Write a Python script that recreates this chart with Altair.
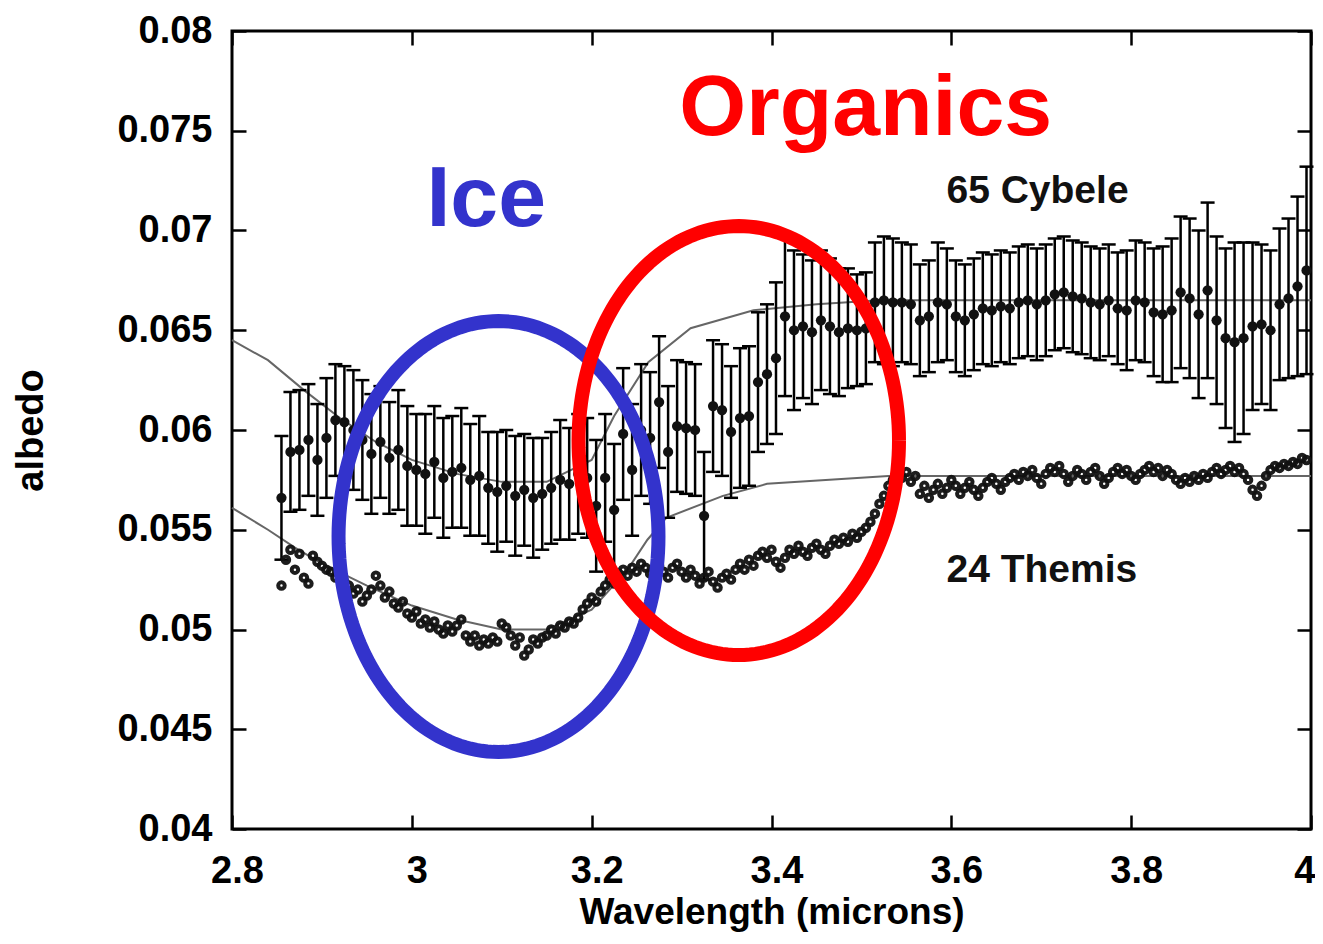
import altair as alt
import pandas as pd
import numpy as np

# ---------------- data ----------------
cyb_wl = [2.855, 2.865, 2.875, 2.885, 2.895, 2.905, 2.915, 2.925, 2.935, 2.945,
          2.955, 2.965, 2.975, 2.985, 2.995, 3.005, 3.015, 3.025, 3.035, 3.045,
          3.055, 3.065, 3.075, 3.085, 3.095, 3.105, 3.115, 3.125, 3.135, 3.145,
          3.155, 3.165, 3.175, 3.185, 3.195, 3.205, 3.215, 3.225, 3.235, 3.245,
          3.255, 3.265, 3.275, 3.285, 3.295, 3.305, 3.315, 3.325, 3.335, 3.345,
          3.355, 3.365, 3.375, 3.385, 3.395, 3.405, 3.415, 3.425, 3.435, 3.445,
          3.455, 3.465, 3.475, 3.485, 3.495, 3.505, 3.515, 3.525, 3.535, 3.545,
          3.555, 3.565, 3.575, 3.585, 3.595, 3.605, 3.615, 3.625, 3.635, 3.645,
          3.655, 3.665, 3.675, 3.685, 3.695, 3.705, 3.715, 3.725, 3.735, 3.745,
          3.755, 3.765, 3.775, 3.785, 3.795, 3.805, 3.815, 3.825, 3.835, 3.845,
          3.855, 3.865, 3.875, 3.885, 3.895, 3.905, 3.915, 3.925, 3.935, 3.945,
          3.955, 3.965, 3.975, 3.985, 3.995]
cyb_alb = [0.0566, 0.0589, 0.0590, 0.0595, 0.0585, 0.0596, 0.0605, 0.0604, 0.0600, 0.0595,
           0.0588, 0.0594, 0.0586, 0.0590, 0.0582, 0.0580, 0.0578, 0.0584, 0.0576, 0.0579,
           0.0581, 0.0575, 0.0577, 0.0571, 0.0569, 0.0572, 0.0567, 0.0570, 0.0566, 0.0568,
           0.0571, 0.0575, 0.0573, 0.0578, 0.0576, 0.0562, 0.0576, 0.0560, 0.0598, 0.0580,
           0.0600, 0.0596, 0.0614, 0.0589, 0.0602, 0.0601, 0.0600, 0.0557, 0.0612, 0.0610,
           0.0599, 0.0606, 0.0607, 0.0624, 0.0628, 0.0636, 0.0657, 0.0650, 0.0652, 0.0649,
           0.0655, 0.0652, 0.0649, 0.0651, 0.0650, 0.0651, 0.0664, 0.0665, 0.0664, 0.0664,
           0.0663, 0.0655, 0.0657, 0.0664, 0.0663, 0.0657, 0.0655, 0.0658, 0.0661, 0.0660,
           0.0662, 0.0661, 0.0664, 0.0665, 0.0663, 0.0665, 0.0668, 0.0669, 0.0667, 0.0666,
           0.0664, 0.0663, 0.0665, 0.0661, 0.0660, 0.0665, 0.0664, 0.0659, 0.0658, 0.0660,
           0.0669, 0.0666, 0.0658, 0.0670, 0.0655, 0.0646, 0.0644, 0.0646, 0.0652, 0.0653,
           0.0650, 0.0663, 0.0666, 0.0672, 0.0680]
cyb_err = [0.0031, 0.0030, 0.0030, 0.0028, 0.0028, 0.0030, 0.0028, 0.0028, 0.0030, 0.0030,
           0.0030, 0.0028, 0.0028, 0.0030, 0.0030, 0.0028, 0.0030, 0.0028, 0.0030, 0.0028,
           0.0030, 0.0028, 0.0030, 0.0028, 0.0030, 0.0028, 0.0030, 0.0028, 0.0030, 0.0028,
           0.0028, 0.0030, 0.0028, 0.0030, 0.0030, 0.0033, 0.0032, 0.0033, 0.0033, 0.0033,
           0.0033, 0.0033, 0.0033, 0.0033, 0.0033, 0.0033, 0.0033, 0.0032, 0.0033, 0.0033,
           0.0033, 0.0035, 0.0035, 0.0035, 0.0035, 0.0038, 0.0040, 0.0040, 0.0036, 0.0036,
           0.0035, 0.0034, 0.0032, 0.0030, 0.0028, 0.0028, 0.0030, 0.0032, 0.0032, 0.0030,
           0.0030, 0.0028, 0.0028, 0.0030, 0.0028, 0.0028, 0.0028, 0.0028, 0.0028, 0.0028,
           0.0028, 0.0028, 0.0028, 0.0028, 0.0028, 0.0028, 0.0028, 0.0028, 0.0028, 0.0028,
           0.0028, 0.0028, 0.0028, 0.0028, 0.0030, 0.0030, 0.0030, 0.0032, 0.0034, 0.0036,
           0.0038, 0.0040, 0.0042, 0.0044, 0.0042, 0.0045, 0.0050, 0.0048, 0.0042, 0.0040,
           0.0040, 0.0038, 0.0040, 0.0045, 0.0052]

them_wl = [2.855, 2.860, 2.865, 2.870, 2.875, 2.880, 2.885, 2.890, 2.895, 2.900,
           2.905, 2.910, 2.915, 2.920, 2.925, 2.930, 2.935, 2.940, 2.945, 2.950,
           2.955, 2.960, 2.965, 2.970, 2.975, 2.980, 2.985, 2.990, 2.995, 3.000,
           3.005, 3.010, 3.015, 3.020, 3.025, 3.030, 3.035, 3.040, 3.045, 3.050,
           3.055, 3.060, 3.065, 3.070, 3.075, 3.080, 3.085, 3.090, 3.095, 3.100,
           3.105, 3.110, 3.115, 3.120, 3.125, 3.130, 3.135, 3.140, 3.145, 3.150,
           3.155, 3.160, 3.165, 3.170, 3.175, 3.180, 3.185, 3.190, 3.195, 3.200,
           3.205, 3.210, 3.215, 3.220, 3.225, 3.230, 3.235, 3.240, 3.245, 3.250,
           3.255, 3.260, 3.265, 3.270, 3.275, 3.280, 3.285, 3.290, 3.295, 3.300,
           3.305, 3.310, 3.315, 3.320, 3.325, 3.330, 3.335, 3.340, 3.345, 3.350,
           3.355, 3.360, 3.365, 3.370, 3.375, 3.380, 3.385, 3.390, 3.395, 3.400,
           3.405, 3.410, 3.415, 3.420, 3.425, 3.430, 3.435, 3.440, 3.445, 3.450,
           3.455, 3.460, 3.465, 3.470, 3.475, 3.480, 3.485, 3.490, 3.495, 3.500,
           3.505, 3.510, 3.515, 3.520, 3.525, 3.530, 3.535, 3.540, 3.545, 3.550,
           3.555, 3.560, 3.565, 3.570, 3.575, 3.580, 3.585, 3.590, 3.595, 3.600,
           3.605, 3.610, 3.615, 3.620, 3.625, 3.630, 3.635, 3.640, 3.645, 3.650,
           3.655, 3.660, 3.665, 3.670, 3.675, 3.680, 3.685, 3.690, 3.695, 3.700,
           3.705, 3.710, 3.715, 3.720, 3.725, 3.730, 3.735, 3.740, 3.745, 3.750,
           3.755, 3.760, 3.765, 3.770, 3.775, 3.780, 3.785, 3.790, 3.795, 3.800,
           3.805, 3.810, 3.815, 3.820, 3.825, 3.830, 3.835, 3.840, 3.845, 3.850,
           3.855, 3.860, 3.865, 3.870, 3.875, 3.880, 3.885, 3.890, 3.895, 3.900,
           3.905, 3.910, 3.915, 3.920, 3.925, 3.930, 3.935, 3.940, 3.945, 3.950,
           3.955, 3.960, 3.965, 3.970, 3.975, 3.980, 3.985, 3.990, 3.995]
them_alb = [0.0522, 0.0535, 0.0540, 0.0530, 0.0538, 0.0526, 0.0523, 0.0537, 0.0534, 0.0532,
            0.0530, 0.0529, 0.0526, 0.0530, 0.0524, 0.0522, 0.0518, 0.0520, 0.0514, 0.0517,
            0.0520, 0.0527, 0.0522, 0.0516, 0.0519, 0.0513, 0.0511, 0.0514, 0.0508, 0.0506,
            0.0509, 0.0503, 0.0505, 0.0501, 0.0504, 0.0500, 0.0498, 0.0502, 0.0499, 0.0502,
            0.0505, 0.0497, 0.0494, 0.0497, 0.0492, 0.0495, 0.0493, 0.0496, 0.0494, 0.0503,
            0.0501, 0.0497, 0.0492, 0.0496, 0.0487, 0.0490, 0.0495, 0.0493, 0.0496, 0.0497,
            0.0500, 0.0498, 0.0502, 0.0501, 0.0504, 0.0503, 0.0506, 0.0510, 0.0513, 0.0516,
            0.0514, 0.0519, 0.0522, 0.0525, 0.0523, 0.0528, 0.0530, 0.0527, 0.0531, 0.0529,
            0.0533, 0.0531, 0.0528, 0.0530, 0.0532, 0.0529, 0.0526, 0.0531, 0.0533, 0.0529,
            0.0526, 0.0530, 0.0527, 0.0523, 0.0526, 0.0529, 0.0524, 0.0521, 0.0526, 0.0528,
            0.0525, 0.0530, 0.0533, 0.0530, 0.0535, 0.0532, 0.0537, 0.0539, 0.0536, 0.0540,
            0.0534, 0.0531, 0.0536, 0.0540, 0.0538, 0.0542, 0.0539, 0.0537, 0.0541, 0.0543,
            0.0540, 0.0538, 0.0542, 0.0545, 0.0543, 0.0546, 0.0544, 0.0548, 0.0546, 0.0549,
            0.0551, 0.0554, 0.0558, 0.0563, 0.0567, 0.0572, 0.0575, 0.0578, 0.0576, 0.0579,
            0.0574, 0.0577, 0.0568, 0.0572, 0.0566, 0.0570, 0.0573, 0.0568, 0.0571, 0.0575,
            0.0572, 0.0568, 0.0571, 0.0574, 0.0570, 0.0567, 0.0571, 0.0574, 0.0576, 0.0573,
            0.0570, 0.0574, 0.0576, 0.0578, 0.0575, 0.0579, 0.0577, 0.0580, 0.0576, 0.0573,
            0.0578, 0.0581, 0.0579, 0.0582, 0.0578, 0.0574, 0.0577, 0.0580, 0.0578, 0.0575,
            0.0579, 0.0581, 0.0577, 0.0573, 0.0576, 0.0579, 0.0581, 0.0578, 0.0580, 0.0577,
            0.0575, 0.0578, 0.0580, 0.0582, 0.0579, 0.0581, 0.0577, 0.0580, 0.0578, 0.0575,
            0.0573, 0.0576, 0.0574, 0.0577, 0.0575, 0.0578, 0.0576, 0.0579, 0.0581, 0.0578,
            0.0580, 0.0582, 0.0579, 0.0581, 0.0578, 0.0575, 0.0570, 0.0567, 0.0572, 0.0577,
            0.0580, 0.0582, 0.0581, 0.0583, 0.0582, 0.0584, 0.0583, 0.0586, 0.0585]

# continuum model curves (thin gray lines)
cyb_model_wl = [2.80, 2.84, 2.88, 2.92, 2.96, 3.00, 3.05, 3.10, 3.15, 3.20,
                3.225, 3.263, 3.31, 3.38, 3.45, 3.52, 3.60, 4.00]
cyb_model_alb = [0.0645, 0.0635, 0.0620, 0.0606, 0.0594, 0.0585, 0.0578, 0.0574, 0.0574, 0.0585,
                 0.0607, 0.0634, 0.0651, 0.0660, 0.0663, 0.0665, 0.0665, 0.0665]
them_model_wl = [2.80, 2.84, 2.87, 2.90, 2.95, 3.00, 3.05, 3.10, 3.15, 3.20,
                 3.24, 3.262, 3.283, 3.346, 3.395, 3.53, 4.00]
them_model_alb = [0.0561, 0.0550, 0.0541, 0.0533, 0.0522, 0.0512, 0.0505, 0.0500, 0.0500, 0.0510,
                  0.0530, 0.0545, 0.0556, 0.0567, 0.0573, 0.0577, 0.0577]

x_ticks = [2.8, 3.0, 3.2, 3.4, 3.6, 3.8, 4.0]
y_ticks = [0.04, 0.045, 0.05, 0.055, 0.06, 0.065, 0.07, 0.075, 0.08]

# annotation labels
labels_text = ["65 Cybele", "24 Themis"]
labels_wl = [3.5946, 3.5946]
labels_alb = [0.07138, 0.05238]

big_text = ["Ice", "Organics"]
big_wl = [3.0827, 3.5048]
big_alb = [0.07023, 0.07479]
big_col = ["#3333cc", "#ff0000"]

# highlight ellipses: centre (micron, albedo), half axes
ell_names = ["ice", "org"]
ell_cx = [3.0964, 3.3636]
ell_cy = [0.05466, 0.05947]
ell_rx = [0.1779, 0.1782]
ell_ry = [0.01080, 0.01075]
ell_col = ["#3333cc", "#ff0000"]

# ---------------- build tables ----------------
cyb = pd.DataFrame({"wl": cyb_wl, "alb": cyb_alb, "err": cyb_err})
cyb["lo"] = cyb["alb"] - cyb["err"]
cyb["hi"] = cyb["alb"] + cyb["err"]
them = pd.DataFrame({"wl": them_wl, "alb": them_alb})
cm = pd.DataFrame({"wl": cyb_model_wl, "alb": cyb_model_alb})
tm = pd.DataFrame({"wl": them_model_wl, "alb": them_model_alb})
lab = pd.DataFrame({"t": labels_text, "wl": labels_wl, "alb": labels_alb})
big = pd.DataFrame({"t": big_text, "wl": big_wl, "alb": big_alb, "c": big_col})

theta = np.linspace(0, 2 * np.pi, 181)
ell_rows = []
for n, cx, cy, rx, ry in zip(ell_names, ell_cx, ell_cy, ell_rx, ell_ry):
    for i, t in enumerate(theta):
        ell_rows.append({"name": n, "i": i, "wl": cx + rx * np.cos(t), "alb": cy + ry * np.sin(t)})
ell = pd.DataFrame(ell_rows)

FONT = "Liberation Sans"
xs = alt.Scale(domain=[2.8, 4.0], nice=False, zero=False)
ys = alt.Scale(domain=[0.04, 0.08], nice=False, zero=False)


def X(field="wl", axis=None):
    return alt.X(f"{field}:Q", scale=xs, axis=axis)


def Y(field="alb", axis=None):
    return alt.Y(f"{field}:Q", scale=ys, axis=axis)


tick_common = dict(offset=-14, tickSize=14, tickWidth=2.5, tickColor="black",
                   domain=False, grid=False)

ax_bottom = alt.Axis(orient="bottom", values=x_ticks, format="~g", labelFont=FONT,
                     labelFontSize=38, labelFontWeight="bold", labelColor="black",
                     labelPadding=23, labelFlush=False, labelOverlap=False,
                     labelAlign={"condition": {"test": "datum.value >= 3.99", "value": "right"},
                                 "value": "center"},
                     labelOffset={"condition": {"test": "datum.value >= 3.99", "value": 4},
                                  "value": 5},
                     title="Wavelength (microns)", titleFont=FONT, titleFontSize=37,
                     titleFontWeight="bold", titleColor="black", titleX=539.5, titleY=79,
                     titleBaseline="top", titleAlign="center", **tick_common)
ax_left = alt.Axis(orient="left", values=y_ticks, format=".3~f", labelFont=FONT,
                   labelFontSize=38, labelFontWeight="bold", labelColor="black",
                   labelPadding=20, labelFlush=False, labelOverlap=False,
                   title="albedo", titleFont=FONT, titleFontSize=38,
                   titleFontWeight="bold", titleColor="black", titleX=-215, titleY=399,
                   titleBaseline="middle", titleAlign="center", **tick_common)
ax_top = alt.Axis(orient="top", values=x_ticks, labels=False, title=None, **tick_common)
ax_right = alt.Axis(orient="right", values=y_ticks, labels=False, title=None, **tick_common)

# model lines (carry the mirrored top/right axes)
cyb_model = alt.Chart(cm).mark_line(color="#666666", strokeWidth=2).encode(
    x=X(axis=ax_top), y=Y(axis=ax_right))
them_model = alt.Chart(tm).mark_line(color="#666666", strokeWidth=2).encode(x=X(), y=Y())

# Cybele error bars + points (carry the main axes)
bars = alt.Chart(cyb).mark_rule(color="black", strokeWidth=2.5).encode(
    x=X(axis=ax_bottom), y=Y("lo", axis=ax_left), y2="hi:Q")
caps_hi = alt.Chart(cyb).mark_tick(color="black", orient="horizontal", size=14,
                                   thickness=2.5, opacity=1).encode(x=X(), y=Y("hi"))
caps_lo = alt.Chart(cyb).mark_tick(color="black", orient="horizontal", size=14,
                                   thickness=2.5, opacity=1).encode(x=X(), y=Y("lo"))
cyb_pts = alt.Chart(cyb).mark_circle(color="#111111", size=105, opacity=1).encode(x=X(), y=Y())

them_pts = alt.Chart(them).mark_point(shape="circle", filled=False, color="#111111",
                                      strokeWidth=4, size=42, opacity=0.95).encode(x=X(), y=Y())

labels = alt.Chart(lab).mark_text(font=FONT, fontSize=39, fontWeight="bold", color="#111111",
                                  align="left", baseline="alphabetic").encode(
    x=X(), y=Y(), text="t:N")

ellipses = alt.Chart(ell).mark_line(strokeWidth=14).encode(
    x=X(), y=Y(), order="i:Q", detail="name:N",
    color=alt.Color("name:N", scale=alt.Scale(domain=ell_names, range=ell_col), legend=None))

big_labels = alt.Chart(big).mark_text(font=FONT, fontSize=86, fontWeight="bold",
                                      align="center", baseline="alphabetic").encode(
    x=X(), y=Y(), text="t:N",
    color=alt.Color("c:N", scale=None, legend=None))

chart = alt.layer(
    cyb_model, them_model, bars, caps_hi, caps_lo, cyb_pts, them_pts,
    labels, ellipses, big_labels
).resolve_axis(x="independent", y="independent").properties(
    width=1079, height=798,
    autosize=alt.AutoSizeParams(type="none"),
    padding={"left": 224, "top": 23, "right": 4, "bottom": 105},
).configure(background="white").configure_view(stroke="black", strokeWidth=3)

chart.save("out.html", embed_options={"renderer": "svg", "actions": False})
